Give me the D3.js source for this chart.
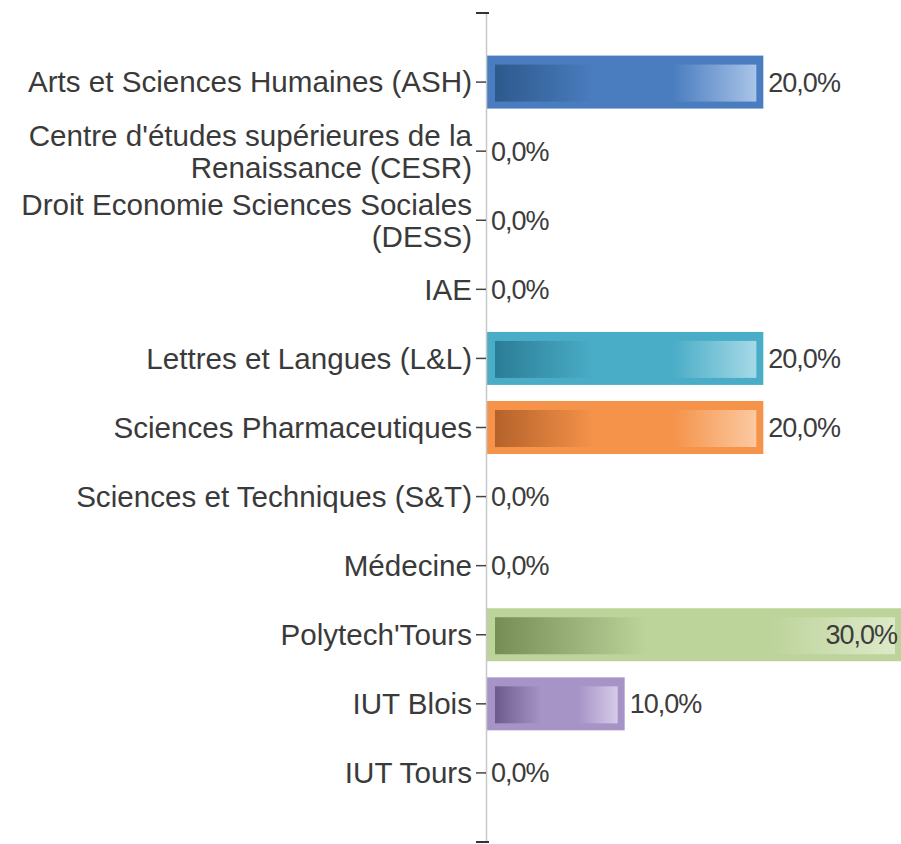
<!DOCTYPE html>
<html>
<head>
<meta charset="utf-8">
<script src="https://cdn.jsdelivr.net/npm/d3@7"></script>
<style>
  body { margin: 0; background: #fff; }
  svg { display: block; }
  .cat-label { font-family: "Liberation Sans", Arial, sans-serif; font-size: 29.6px; fill: #3a3a3a; }
  .val-label { font-family: "Liberation Sans", Arial, sans-serif; font-size: 27px; letter-spacing: -1px; fill: #3c3c3c; }
</style>
</head>
<body>
<svg width="901" height="844"></svg>
<script>
//Categories, one per bar (a "\n" marks where the label wraps)
let categories = [
  "Arts et Sciences Humaines (ASH)",
  "Centre d'études supérieures de la\nRenaissance (CESR)",
  "Droit Economie Sciences Sociales\n(DESS)",
  "IAE",
  "Lettres et Langues (L&L)",
  "Sciences Pharmaceutiques",
  "Sciences et Techniques (S&T)",
  "Médecine",
  "Polytech'Tours",
  "IUT Blois",
  "IUT Tours"
];
//Share of answers per category, in percent
let values = [20, 0, 0, 0, 20, 20, 0, 0, 30, 10, 0];
//Bar colours : base, dark (left of gradient), light (right of gradient)
let baseColors  = ["#4a7dbf", "#c0504d", "#9bbb59", "#8064a2", "#4aadc7", "#f5934a", "#4f81bd", "#c0504d", "#bcd39a", "#a794c7", "#4aadc7"];
let darkColors  = ["#2d598c", "#8a3533", "#6f8a3c", "#574473", "#2b7d96", "#b5622a", "#2d598c", "#8a3533", "#778d56", "#6b5b8b", "#2b7d96"];
let lightColors = ["#a9c4e8", "#e3a9a7", "#d0e2ad", "#c3b5d8", "#a6d9e7", "#fbc9a1", "#a9c4e8", "#e3a9a7", "#dde9c8", "#d5cbe9", "#a6d9e7"];

let svg = d3.select("svg"),
    axisX = 486,
    top_ = 13,
    bottom = 842;

//Band scale : every category sits one full step away from the axis ends
let inner = 0.233;
let y = d3.scaleBand()
    .domain(categories)
    .range([top_, bottom])
    .paddingInner(inner)
    .paddingOuter((1 + inner) / 2);

let x = d3.scaleLinear().domain([0, 30]).range([axisX, 902]);

//One horizontal gradient per category
let defs = svg.append("defs");
categories.forEach(function(c, i) {
  let g = defs.append("linearGradient")
      .attr("id", "grad" + i)
      .attr("x1", "0%").attr("x2", "100%").attr("y1", "0%").attr("y2", "0%");
  g.append("stop").attr("offset", "0%").attr("stop-color", darkColors[i]);
  g.append("stop").attr("offset", "38%").attr("stop-color", baseColors[i]);
  g.append("stop").attr("offset", "68%").attr("stop-color", baseColors[i]);
  g.append("stop").attr("offset", "100%").attr("stop-color", lightColors[i]);
});

//Bars : outer frame in the base colour, inner rect with the gradient
let barG = svg.append("g");
values.forEach(function(v, i) {
  if (v <= 0) return;
  let yy = y(categories[i]), h = y.bandwidth(), w = x(v) - x(0);
  barG.append("rect")
      .attr("x", x(0)).attr("y", yy)
      .attr("width", w).attr("height", h)
      .attr("fill", baseColors[i]);
  barG.append("rect")
      .attr("x", x(0) + 9).attr("y", yy + 9)
      .attr("width", Math.max(0, w - 16)).attr("height", h - 16)
      .attr("fill", "url(#grad" + i + ")");
});

//Y axis, ticks only (labels are drawn below so they can wrap)
let yAxis = d3.axisLeft(y).tickSize(10).tickPadding(4).tickSizeOuter(0).tickFormat("");
let ax = svg.append("g")
    .attr("transform", "translate(" + axisX + ",0)")
    .call(yAxis);
ax.select(".domain").attr("stroke", "#c8c8c8").attr("stroke-width", 1.5);
ax.selectAll(".tick line").attr("stroke", "#444").attr("stroke-width", 1.5);

//Small dark caps at both ends of the axis
y.range().forEach(function(p) {
  ax.append("line")
      .attr("x1", -10).attr("x2", 3)
      .attr("y1", p).attr("y2", p)
      .attr("stroke", "#333").attr("stroke-width", 2);
});

let labels = svg.append("g");
categories.forEach(function(c) {
  let lines = c.split("\n");
  let cy = y(c) + y.bandwidth() / 2;
  let t = labels.append("text")
      .attr("class", "cat-label")
      .attr("text-anchor", "end");
  lines.forEach(function(l, j) {
    t.append("tspan")
        .attr("x", axisX - 14)
        .attr("y", cy + (j - (lines.length - 1) / 2) * 32)
        .attr("dy", "0.35em")
        .text(l);
  });
});

//Value labels, outside the bar unless they would leave the picture
let fmt = function(v) { return v.toFixed(1).replace(".", ",") + "%"; };
let vals = svg.append("g");
values.forEach(function(v, i) {
  let cy = y(categories[i]) + y.bandwidth() / 2;
  let t = vals.append("text")
      .attr("class", "val-label")
      .attr("y", cy)
      .attr("dy", "0.35em")
      .attr("x", x(v) + 5)
      .text(fmt(v));
  let len = t.node().getComputedTextLength();
  if (x(v) + 5 + len > 898) {
    t.attr("text-anchor", "end").attr("x", 897);
  }
});
</script>
</body>
</html>
